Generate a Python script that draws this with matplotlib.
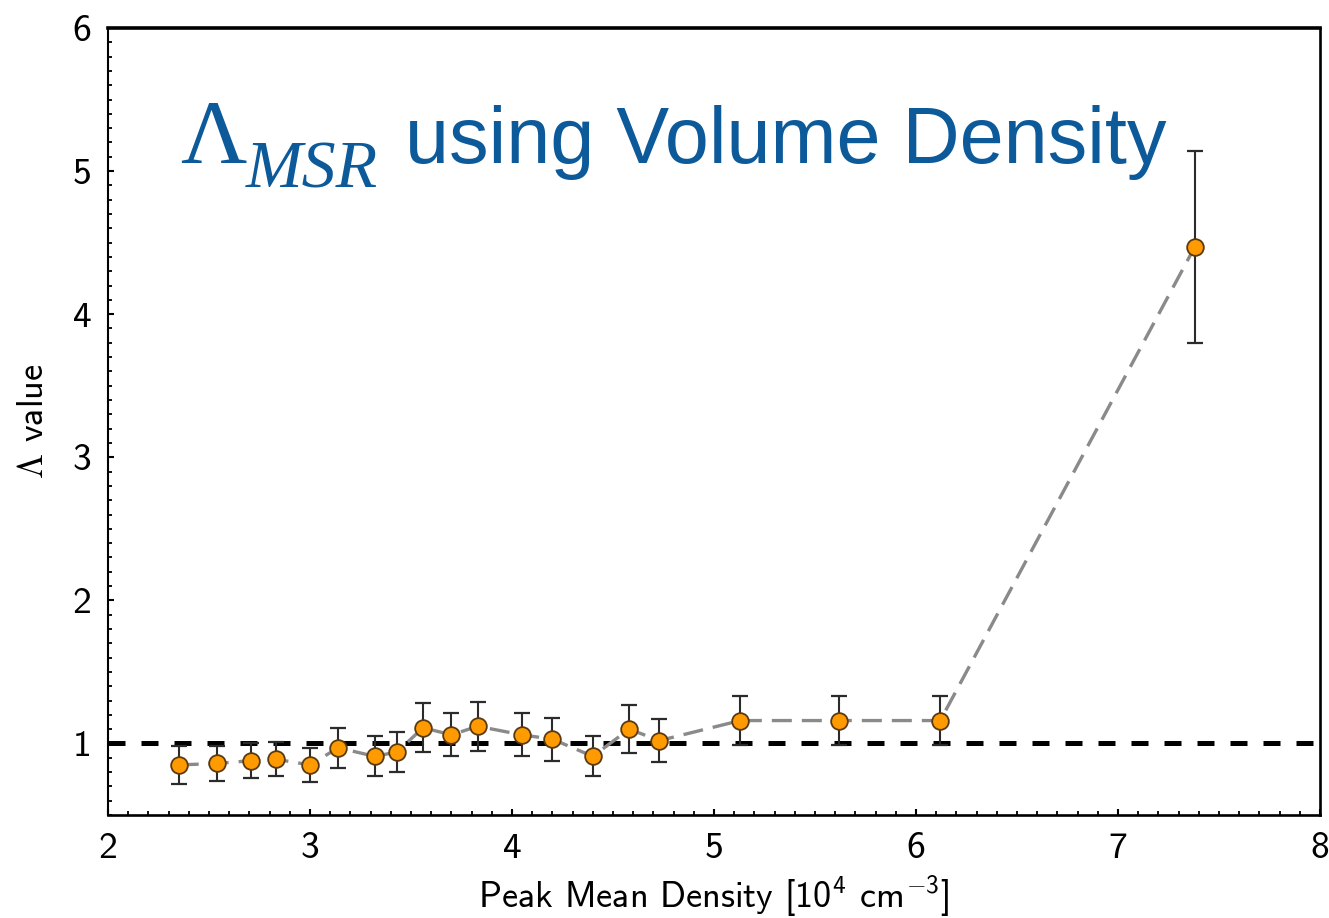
import matplotlib
matplotlib.use("Agg")
import matplotlib.pyplot as plt
from matplotlib.ticker import MultipleLocator

plt.rcParams['font.family'] = 'cmss10'
plt.rcParams['mathtext.fontset'] = 'custom'
plt.rcParams['mathtext.rm'] = 'cmss10'
plt.rcParams['mathtext.sf'] = 'cmss10'
plt.rcParams['mathtext.it'] = 'cmss10'
plt.rcParams['mathtext.fallback'] = 'cm'
plt.rcParams['axes.unicode_minus'] = False

# peak mean density bins (1e4 cm^-3), Lambda_MSR and its uncertainty
dens = [2.35, 2.54, 2.71, 2.83, 3.00, 3.14, 3.32, 3.43, 3.56, 3.70,
        3.83, 4.05, 4.20, 4.40, 4.58, 4.73, 5.13, 5.62, 6.12, 7.38]
lam = [0.85, 0.86, 0.88, 0.89, 0.85, 0.97, 0.91, 0.94, 1.11, 1.06,
       1.12, 1.06, 1.03, 0.91, 1.10, 1.02, 1.16, 1.16, 1.16, 4.47]
err = [0.13, 0.12, 0.12, 0.12, 0.12, 0.14, 0.14, 0.14, 0.17, 0.15,
       0.17, 0.15, 0.15, 0.14, 0.17, 0.15, 0.17, 0.17, 0.17, 0.67]
xticks = [2, 3, 4, 5, 6, 7, 8]
yticks = [1, 2, 3, 4, 5, 6]

W, H = 1329, 918
fig = plt.figure(figsize=(W / 100, H / 100), dpi=100)
ax = fig.add_axes([108 / W, 1 - 815 / H, (1320 - 108) / W, (815 - 28) / H])

ax.axhline(1.0, color='black', lw=3.6, dashes=(3.4, 3.2), zorder=1)
ax.plot(dens, lam, color='#8a8a8a', lw=2.4, dashes=(6, 3), zorder=2)
ax.errorbar(dens, lam, yerr=err, fmt='none', ecolor='#2b2b2b',
            elinewidth=1.5, capsize=6, capthick=1.6, zorder=3)
ax.plot(dens, lam, 'o', ms=12, mfc='#ff9a00', mec='#5a3a10', mew=1.3, zorder=4)

ax.set_xlim(2, 8)
ax.set_ylim(0.5, 6)
ax.set_xticks(xticks)
ax.set_yticks(yticks)
ax.set_xticklabels([str(v) for v in xticks])
ax.set_yticklabels([str(v) for v in yticks])
ax.xaxis.set_minor_locator(MultipleLocator(0.1))
ax.yaxis.set_minor_locator(MultipleLocator(0.1))
ax.tick_params(which='major', direction='in', length=4, width=1.5,
               labelsize=27, pad=12)
ax.tick_params(which='minor', direction='in', length=3, width=1.3)

for side, w in [('top', 2.6), ('right', 1.9), ('bottom', 1.9), ('left', 1.5)]:
    ax.spines[side].set_linewidth(w)

ax.set_xlabel('Peak Mean Density [10$^4$ cm$^{-3}$]', fontsize=26, labelpad=6)
ax.set_ylabel(r'$\Lambda$ value', fontsize=26, labelpad=16)

blue = '#0d5a9a'
fig.text(180 / W, 1 - 163 / H, '\u039b', color=blue, fontsize=66,
         family='Liberation Serif', va='baseline', ha='left')
fig.text(246 / W, 1 - 187 / H, 'MSR', color=blue, fontsize=49,
         family='Liberation Serif', style='italic', va='baseline', ha='left')
fig.text(405 / W, 1 - 163 / H, 'using Volume Density', color=blue, fontsize=57,
         family='Liberation Sans', va='baseline', ha='left')

fig.savefig('out.png', dpi=100)
